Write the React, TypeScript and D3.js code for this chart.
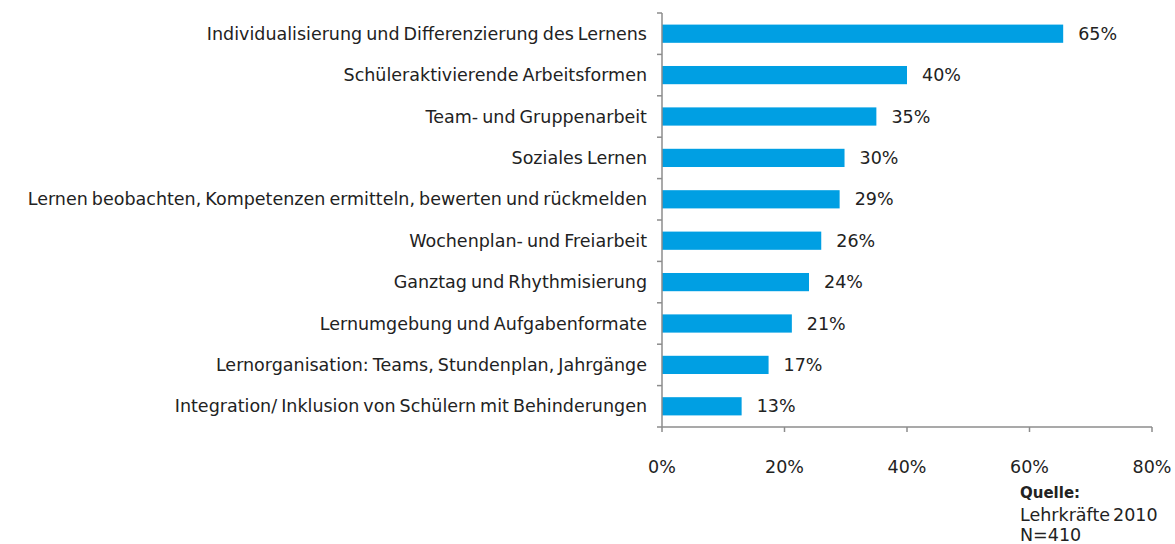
import React from "react";
import * as d3 from "d3";

const categories = [
  "Individualisierung und Differenzierung des Lernens",
  "Schüleraktivierende Arbeitsformen",
  "Team- und Gruppenarbeit",
  "Soziales Lernen",
  "Lernen beobachten, Kompetenzen ermitteln, bewerten und rückmelden",
  "Wochenplan- und Freiarbeit",
  "Ganztag und Rhythmisierung",
  "Lernumgebung und Aufgabenformate",
  "Lernorganisation: Teams, Stundenplan, Jahrgänge",
  "Integration/ Inklusion von Schülern mit Behinderungen",
];
const values = [65.5, 40, 35, 29.8, 29, 26, 24, 21.2, 17.4, 13];
const valueLabels = ["65%", "40%", "35%", "30%", "29%", "26%", "24%", "21%", "17%", "13%"];
const xTicks = [0, 20, 40, 60, 80];
const sourceLines = ["Lehrkräfte 2010", "N=410"];

const W = 1175;
const H = 544;
const font = "Verdana, 'DejaVu Sans', sans-serif";
const FS = 17.5;

export default function App() {
  const x = d3.scaleLinear().domain([0, 80]).range([662, 1152]);
  const y = d3.scaleBand().domain(categories).range([13, 427]).paddingInner(0.56).paddingOuter(0.28);
  const yEdges = d3.range(categories.length + 1).map((i) => 13 + (i * (427 - 13)) / categories.length);
  const axisColor = "#8c8c8c";
  const txt = "#222";
  return (
    <svg width={W} height={H} style={{ position: "absolute", left: 0, top: 0, fontFamily: font }}>
      <rect width={W} height={H} fill="#fff" />
      {categories.map((c, i) => (
        <g key={c}>
          <rect x={x(0)} y={y(c)} width={x(values[i]) - x(0)} height={y.bandwidth()} fill="#009FE3" />
          <text x={647} y={(y(c) as number) + y.bandwidth() / 2} dy="0.35em" textAnchor="end" fontSize={FS} fill={txt} wordSpacing={-1.5}>
            {c}
          </text>
          <text x={x(values[i]) + 15} y={(y(c) as number) + y.bandwidth() / 2} dy="0.35em" fontSize={FS} fill={txt}>
            {valueLabels[i]}
          </text>
        </g>
      ))}
      <line x1={x(0)} x2={x(0)} y1={13} y2={427} stroke={axisColor} strokeWidth={1.5} />
      {yEdges.map((e, i) => (
        <line key={i} x1={x(0) - 5} x2={x(0)} y1={e} y2={e} stroke={axisColor} strokeWidth={1.5} />
      ))}
      <line x1={x(0)} x2={x(80)} y1={427} y2={427} stroke={axisColor} strokeWidth={1.5} />
      {xTicks.map((t) => (
        <g key={t}>
          <line x1={x(t)} x2={x(t)} y1={427} y2={432} stroke={axisColor} strokeWidth={1.5} />
          <text x={x(t)} y={467} dy="0.35em" textAnchor="middle" fontSize={FS} fill={txt}>
            {t}%
          </text>
        </g>
      ))}
      <text x={1020} y={493} dy="0.35em" fontSize={15} fontWeight="bold" fill={txt}>Quelle:</text>
      {sourceLines.map((s, i) => (
        <text key={s} x={1020} y={515 + i * 20} dy="0.35em" fontSize={17.5} fill={txt} wordSpacing={-2.5}>{s}</text>
      ))}
    </svg>
  );
}
